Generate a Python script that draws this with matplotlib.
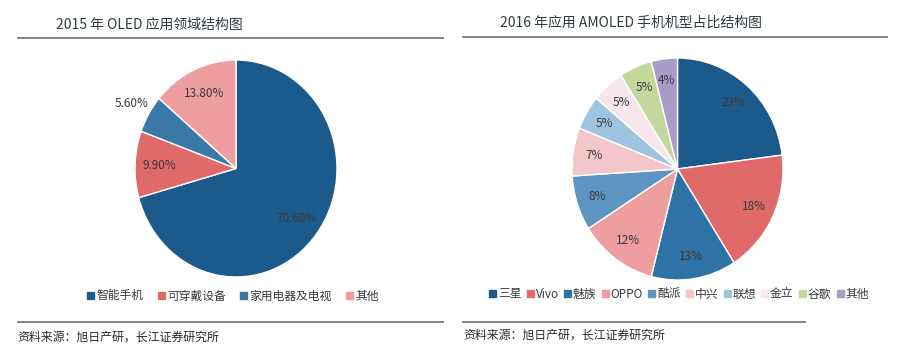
import matplotlib
matplotlib.use("Agg")
import matplotlib.pyplot as plt
from matplotlib.patches import Rectangle
from matplotlib.lines import Line2D

plt.rcParams['font.family'] = ['Noto Sans CJK SC', 'DejaVu Sans']

W, H = 901, 352

left_title = "2015 年 OLED 应用领域结构图"
left_cats = ["智能手机", "可穿戴设备", "家用电器及电视", "其他"]
left_vals = [70.6, 9.9, 5.6, 13.8]
left_labels = ["70.60%", "9.90%", "5.60%", "13.80%"]
left_colors = ["#1d5a8c", "#e06a6a", "#3a78a8", "#ee9e9e"]

right_title = "2016 年应用 AMOLED 手机机型占比结构图"
right_cats = ["三星", "Vivo", "魅族", "OPPO", "酷派", "中兴", "联想", "金立", "谷歌", "其他"]
right_vals = [23, 18, 13, 12, 8, 7, 5, 5, 5, 4]
right_labels = ["23%", "18%", "13%", "12%", "8%", "7%", "5%", "5%", "5%", "4%"]
right_colors = ["#1d5a8c", "#e06a6a", "#2f72a6", "#ee9e9e", "#5f95c2",
                "#f3c6ca", "#9fc4df", "#f7e7ec", "#c4d89c", "#a89cc8"]

source = "资料来源：旭日产研，长江证券研究所"

fig = plt.figure(figsize=(W / 100, H / 100), dpi=100)
fig.patch.set_facecolor("white")


def px_axes(x0, y0, x1, y1):
    return fig.add_axes([x0 / W, 1 - y1 / H, (x1 - x0) / W, (y1 - y0) / H])


def fx(x):
    return x / W


def fy(y):
    return 1 - y / H


def draw_pie(box, vals, labels, colors, pctd, special=None):
    ax = px_axes(*box)
    wedges, texts = ax.pie(vals, colors=colors, startangle=90, counterclock=False,
                           labels=labels, labeldistance=pctd,
                           wedgeprops=dict(edgecolor="white", linewidth=1.0),
                           textprops=dict(fontsize=8.5, color="#3a3a3a",
                                          ha="center", va="center"))
    ax.set_xlim(-1, 1)
    ax.set_ylim(-1, 1)
    ax.set_aspect("auto")
    ax.axis("off")
    for t in texts:
        t.set_clip_on(False)
    if special:
        for i, d in special.items():
            x, y = texts[i].get_position()
            r = (x * x + y * y) ** 0.5
            texts[i].set_position((x / r * d, y / r * d))
    return ax


draw_pie((135, 60, 337, 277), left_vals, left_labels, left_colors, 0.76, {2: 1.2})
draw_pie((572, 58, 783, 280), right_vals, right_labels, right_colors, 0.8)

# titles and rules
fig.text(fx(56), fy(25), left_title, fontsize=10, color="#2f3b40", va="center", ha="left")
fig.text(fx(500), fy(23), right_title, fontsize=10, color="#2f3b40", va="center", ha="left")
for (x0, x1, y) in [(18, 443, 38), (463, 887, 37), (18, 443, 322), (463, 805, 322)]:
    fig.add_artist(Line2D([fx(x0), fx(x1)], [fy(y), fy(y)], color="#7a7a7a", lw=1.3))

fig.text(fx(17), fy(337), source, fontsize=8.6, color="#2a2a2a", va="center", ha="left")
fig.text(fx(463), fy(335), source, fontsize=8.6, color="#2a2a2a", va="center", ha="left")

# legends
fig.legend(handles=[Rectangle((0, 0), 1, 1, color=c) for c in left_colors], labels=left_cats,
           loc="center", bbox_to_anchor=(fx(233), fy(296)), ncol=4, frameon=False,
           fontsize=8.5, handlelength=0.6, handleheight=0.6, handletextpad=0.2,
           columnspacing=1.2, labelcolor="#3a3a3a")
fig.legend(handles=[Rectangle((0, 0), 1, 1, color=c) for c in right_colors], labels=right_cats,
           loc="center", bbox_to_anchor=(fx(679), fy(294)), ncol=10, frameon=False,
           fontsize=8.5, handlelength=0.6, handleheight=0.6, handletextpad=0.15,
           columnspacing=0.45, labelcolor="#3a3a3a")

fig.savefig("out.png", dpi=100, facecolor="white")
